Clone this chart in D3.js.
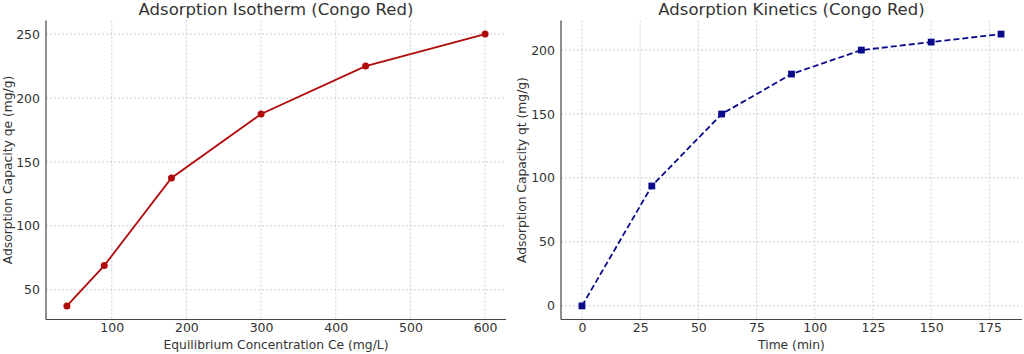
<!DOCTYPE html>
<html>
<head>
<meta charset="utf-8">
<script src="https://cdn.jsdelivr.net/npm/d3@7"></script>
<style>
  body { margin: 0; background: #fff; }
  svg { font-family: "DejaVu Sans", sans-serif; }
  .grid line { stroke: #cccccc; stroke-dasharray: 2,2; stroke-width: 0.9; }
  .spine { stroke: #444; stroke-width: 1.2; }
</style>
</head>
<body>
<svg id="chart" width="1024" height="354"></svg>
<script>
// isotherm data
var ceValues = [40, 90, 180, 300, 440, 600];
var qeValues = [37.5, 69, 137.5, 187.5, 225, 250];
var isoXTicks = [100, 200, 300, 400, 500, 600];
var isoYTicks = [50, 100, 150, 200, 250];

// kinetics data
var timeValues = [0, 30, 60, 90, 120, 150, 180];
var qtValues = [0, 93.75, 150, 181.25, 200, 206.25, 212.5];
var kinXTicks = [0, 25, 50, 75, 100, 125, 150, 175];
var kinYTicks = [0, 50, 100, 150, 200];

var svg = d3.select('#chart');

function pad(ext) {
  var m = (ext[1] - ext[0]) * 0.05;
  return [ext[0] - m, ext[1] + m];
}

function drawPanel(opt) {
  var g = svg.append('g');
  var x = d3.scaleLinear().domain(pad(d3.extent(opt.xs))).range([opt.left, opt.right]);
  var y = d3.scaleLinear().domain(pad(d3.extent(opt.ys))).range([opt.bottom, opt.top]);

  // grid
  var grid = g.append('g').attr('class', 'grid');
  grid.selectAll('.gx').data(opt.xTicks).enter().append('line')
    .attr('x1', d => x(d)).attr('x2', d => x(d))
    .attr('y1', opt.top).attr('y2', opt.bottom);
  grid.selectAll('.gy').data(opt.yTicks).enter().append('line')
    .attr('y1', d => y(d)).attr('y2', d => y(d))
    .attr('x1', opt.left).attr('x2', opt.right);

  // axes (no tick marks)
  g.append('g').attr('transform', 'translate(0,' + opt.bottom + ')')
    .call(d3.axisBottom(x).tickValues(opt.xTicks).tickSize(0).tickPadding(4))
    .call(a => a.select('.domain').remove());
  g.append('g').attr('transform', 'translate(' + opt.left + ',0)')
    .call(d3.axisLeft(y).tickValues(opt.yTicks).tickSize(0).tickPadding(6))
    .call(a => a.select('.domain').remove());
  g.selectAll('.tick text')
    .style('font-family', '"DejaVu Sans", sans-serif')
    .style('font-size', '12.5px')
    .style('fill', '#333');

  g.append('line').attr('class', 'spine')
    .attr('x1', opt.left).attr('x2', opt.left).attr('y1', opt.top).attr('y2', opt.bottom);
  g.append('line').attr('class', 'spine')
    .attr('x1', opt.left).attr('x2', opt.right).attr('y1', opt.bottom).attr('y2', opt.bottom);

  // line
  var pts = opt.xs.map((v, i) => [v, opt.ys[i]]);
  g.append('path').datum(pts)
    .attr('fill', 'none')
    .attr('stroke', opt.color)
    .attr('stroke-width', 1.8)
    .attr('stroke-dasharray', opt.dash || null)
    .attr('d', d3.line().x(d => x(d[0])).y(d => y(d[1])));

  if (opt.marker === 'circle') {
    g.selectAll('.pt').data(pts).enter().append('circle')
      .attr('cx', d => x(d[0])).attr('cy', d => y(d[1])).attr('r', 3.5)
      .attr('fill', opt.color);
  } else {
    g.selectAll('.pt').data(pts).enter().append('rect')
      .attr('x', d => x(d[0]) - 3.4).attr('y', d => y(d[1]) - 3.4)
      .attr('width', 6.8).attr('height', 6.8)
      .attr('fill', opt.color);
  }

  // titles
  g.append('text')
    .attr('x', (opt.left + opt.right) / 2).attr('y', 15)
    .attr('text-anchor', 'middle').attr('font-size', 16.5).attr('fill', '#333')
    .text(opt.title);
  g.append('text')
    .attr('x', (opt.left + opt.right) / 2).attr('y', 349)
    .attr('text-anchor', 'middle').attr('font-size', 12.3).attr('fill', '#333')
    .text(opt.xLabel);
  g.append('text')
    .attr('transform', 'translate(' + opt.yLabelX + ',' + ((opt.top + opt.bottom) / 2) + ') rotate(-90)')
    .attr('text-anchor', 'middle').attr('font-size', 12.3).attr('fill', '#333')
    .text(opt.yLabel);
}

drawPanel({
  xs: ceValues, ys: qeValues, xTicks: isoXTicks, yTicks: isoYTicks,
  left: 46, right: 506, top: 20.5, bottom: 319.5,
  color: '#b00a0a', marker: 'circle',
  title: 'Adsorption Isotherm (Congo Red)',
  xLabel: 'Equilibrium Concentration Ce (mg/L)',
  yLabel: 'Adsorption Capacity qe (mg/g)', yLabelX: 12
});

drawPanel({
  xs: timeValues, ys: qtValues, xTicks: kinXTicks, yTicks: kinYTicks,
  left: 561, right: 1022, top: 20.5, bottom: 319.5,
  color: '#0a0a8c', marker: 'square', dash: '6,3',
  title: 'Adsorption Kinetics (Congo Red)',
  xLabel: 'Time (min)',
  yLabel: 'Adsorption Capacity qt (mg/g)', yLabelX: 526
});
</script>
</body>
</html>
